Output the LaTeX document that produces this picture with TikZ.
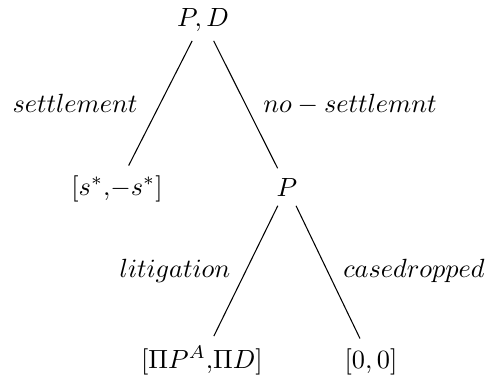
\documentclass[tikz,border=0pt]{standalone}
\begin{document}
\begin{tikzpicture}[x=0.38pt,y=-0.38pt,
  tnode/.style={anchor=base,inner sep=3.5pt},
  lbl/.style={anchor=base,inner sep=0pt},
  edge/.style={draw,line width=0.4pt}]
\useasboundingbox (0,0) rectangle (488,377);
\node[tnode] (root) at (203,26) {$P, D$};
\node[tnode] (s) at (117,195) {$[s^{*}{,}{-s^{*}}]$};
\node[tnode] (p) at (287,196) {$P$};
\node[tnode] (lit) at (202,368) {$[\Pi P^{A}{,}\Pi D]$};
\node[tnode] (drop) at (371,368) {$[0,0]$};
\path[edge] (root) -- (s);
\path[edge] (root) -- (p);
\path[edge] (p) -- (lit);
\path[edge] (p) -- (drop);
\node[lbl] (l1) at (75,112) {$settlement$};
\node[lbl] (l2) at (350,112) {$no-settlemnt$};
\node[lbl] (l3) at (175,277) {$litigation$};
\node[lbl] (l4) at (414,277) {$casedropped$};
\end{tikzpicture}
\end{document}
